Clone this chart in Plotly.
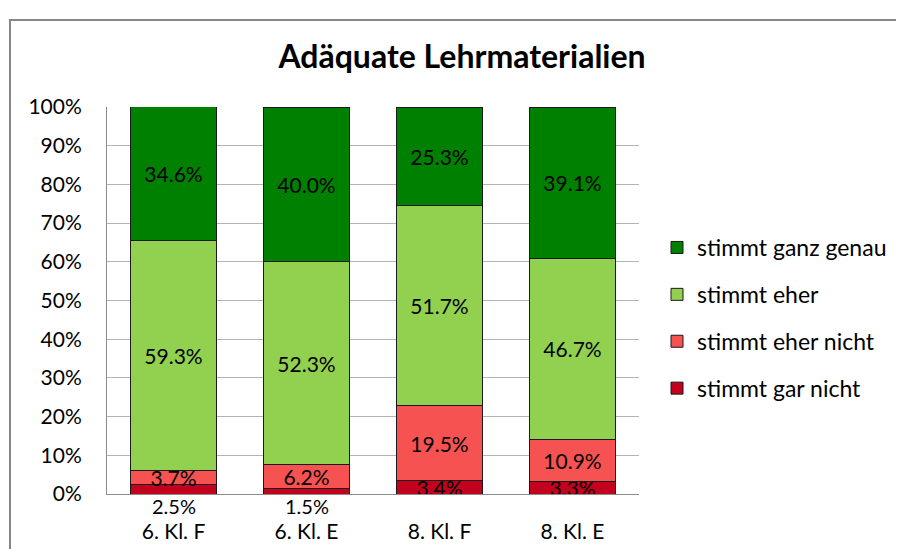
import plotly.graph_objects as go

categories = ["6. Kl. F", "6. Kl. E", "8. Kl. F", "8. Kl. E"]
series_names = ["stimmt gar nicht", "stimmt eher nicht", "stimmt eher", "stimmt ganz genau"]
gar_nicht = [2.5, 1.5, 3.4, 3.3]
eher_nicht = [3.7, 6.2, 19.5, 10.9]
eher = [59.3, 52.3, 51.7, 46.7]
ganz_genau = [34.6, 40.0, 25.3, 39.1]
y_ticks = [0, 10, 20, 30, 40, 50, 60, 70, 80, 90, 100]
y_tick_labels = [f"{v}%" for v in y_ticks]

colors = ["#C4001F", "#F65252", "#92D050", "#008000"]
series = [gar_nicht, eher_nicht, eher, ganz_genau]

# the page body has an 8px margin, so the figure is 8px smaller than the window
OFF = 8
W, H = 904 - OFF, 549 - OFF
L, T = 107 - OFF, 107 - OFF
B = H - (494 - OFF)
pw = 532
R = W - L - pw
ph = H - T - B
FONT = "Lato"

def px_x(sx):
    return (sx - OFF - L) / pw

def px_y(sy):
    return (H - B - (sy - OFF)) / ph

fig = go.Figure()
SMALL = 3.0
n = len(series_names)
for i, (name, vals, col) in enumerate(zip(series_names, series, colors)):
    texts = [("" if v < SMALL else f"{v:.1f}%") for v in vals]
    fig.add_trace(go.Bar(
        name=name, x=categories, y=vals,
        marker=dict(color=col, line=dict(color="#1a1a1a", width=1)),
        text=texts, textposition="inside", insidetextanchor="middle",
        textfont=dict(family=FONT, size=21, color="#000000"),
        constraintext="none", textangle=0, width=0.65,
        legendgroup=name, legendrank=n - i, hoverinfo="skip",
    ))

# labels of very small segments are placed below the axis, as in the original
for cat, v in zip(categories, gar_nicht):
    if v < SMALL:
        fig.add_annotation(x=cat, y=0, text=f"{v:.1f}%", showarrow=False,
                           yanchor="middle", yshift=-12,
                           font=dict(family=FONT, size=20, color="#000000"))

# outer chart border
fig.add_shape(type="rect", xref="paper", yref="paper",
              x0=px_x(10), x1=px_x(930), y0=px_y(580), y1=px_y(20),
              line=dict(color="#878787", width=2), fillcolor="rgba(0,0,0,0)", layer="below")

fig.update_layout(
    width=W, height=H, barmode="stack",
    margin=dict(l=L, r=R, t=T, b=B, autoexpand=False),
    paper_bgcolor="white", plot_bgcolor="white",
    title=dict(text="<b>Adäquate Lehrmaterialien</b>", x=(462 - OFF) / W, xanchor="center",
               y=1 - (57 - OFF) / H, yanchor="middle", yref="container",
               font=dict(family=FONT, size=32, color="#000000")),
    legend=dict(x=px_x(657), y=px_y(226), xanchor="left", yanchor="top",
                traceorder="grouped", tracegroupgap=14,
                font=dict(family=FONT, size=23, color="#000000"),
                bgcolor="rgba(0,0,0,0)", itemwidth=30),
    font=dict(family=FONT, size=21, color="#000000"),
)
fig.update_yaxes(range=[0, 100], tickvals=y_ticks, ticktext=y_tick_labels,
                 showgrid=True, gridcolor="#B3B3B3", gridwidth=1,
                 showline=True, linecolor="#8C8C8C", linewidth=1,
                 ticks="", ticklabelstandoff=20, zeroline=False,
                 tickfont=dict(family=FONT, size=21, color="#000000"))
fig.update_xaxes(showline=True, linecolor="#8C8C8C", linewidth=1, mirror=False,
                 ticks="", ticklabelstandoff=19,
                 tickfont=dict(family=FONT, size=21, color="#000000"))

fig.write_html("out.html")
